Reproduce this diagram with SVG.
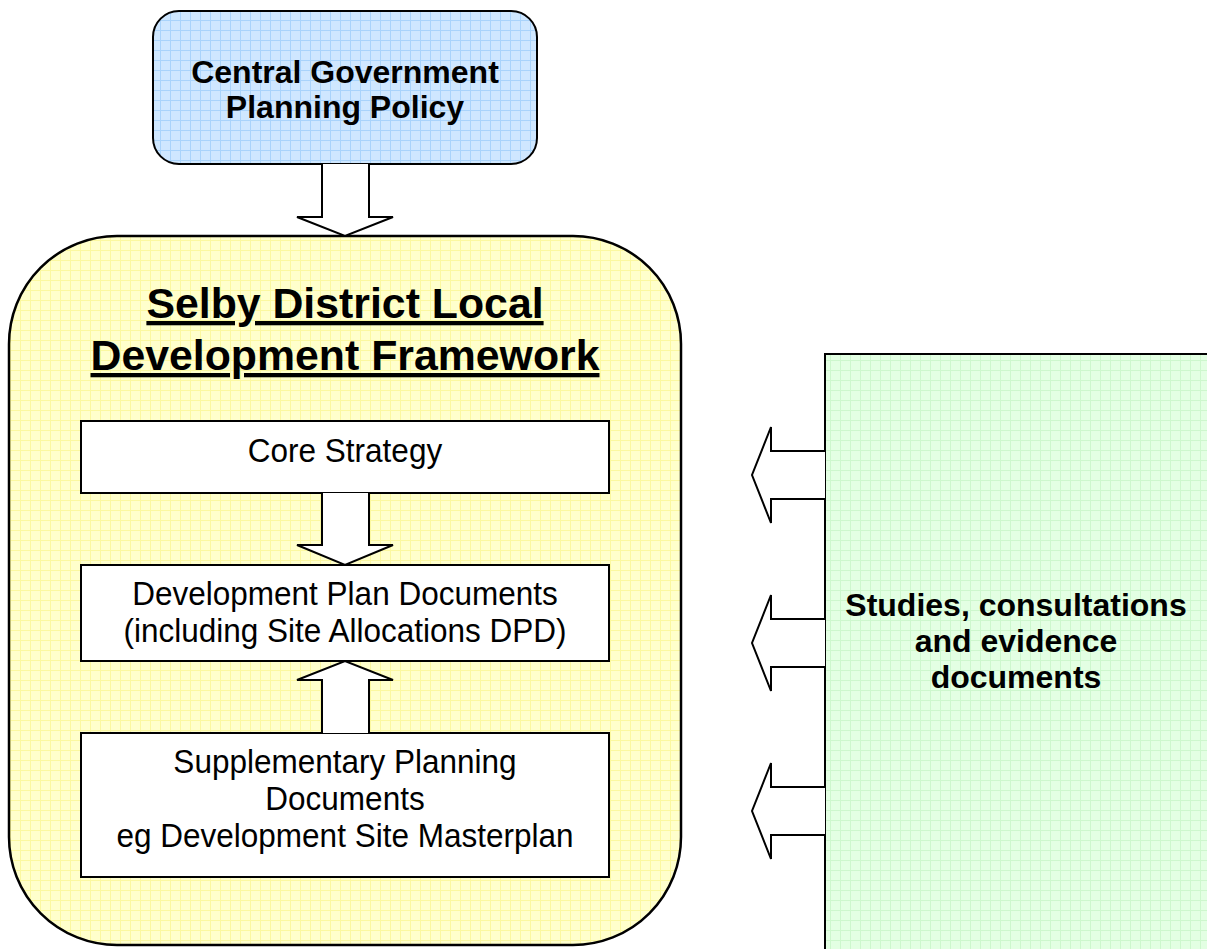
<svg xmlns="http://www.w3.org/2000/svg" width="1207" height="949" viewBox="0 0 1207 949">
<style>
.t{font-family:"Liberation Sans",Arial,sans-serif;fill:#000;text-anchor:middle}
.b{font-weight:bold;font-size:32px}
.n{font-size:33px}
.bx{fill:#fff;stroke:#000;stroke-width:2}
.ar{fill:#fff;stroke:#000;stroke-width:2;stroke-linejoin:miter}
</style>
<defs>
<pattern id="gBlue" width="10" height="10" patternUnits="userSpaceOnUse">
<rect width="10" height="10" fill="#cfe7ff"/>
<path d="M0 0.5H10M0.5 0V10" stroke="#a9d3fb" stroke-width="1"/>
</pattern>
<pattern id="gYellow" width="10" height="10" patternUnits="userSpaceOnUse">
<rect width="10" height="10" fill="#ffffcc"/>
<path d="M0 0.5H10M0.5 0V10" stroke="#fbf8a0" stroke-width="1"/>
</pattern>
<pattern id="gGreen" width="10" height="10" patternUnits="userSpaceOnUse">
<rect width="10" height="10" fill="#e3ffe3"/>
<path d="M0 0.5H10M0.5 0V10" stroke="#cdf7cd" stroke-width="1"/>
</pattern>
</defs>

<g id="lframework">
<rect x="9" y="236" width="672" height="709" rx="108" ry="108" fill="url(#gYellow)" stroke="#000" stroke-width="2.5"/>
<text class="t" font-weight="bold" font-size="42.8" x="345" y="318" text-decoration="underline">Selby District Local</text>
<text class="t" font-weight="bold" font-size="42.8" x="345" y="370" text-decoration="underline">Development Framework</text>
</g>

<g id="central">
<rect x="153" y="11" width="384" height="153" rx="26" ry="26" fill="url(#gBlue)" stroke="#000" stroke-width="2"/>
<text class="t b" x="345" y="83">Central Government</text>
<text class="t b" x="345" y="118">Planning Policy</text>
</g>

<g id="studies">
<rect x="825" y="354" width="400" height="620" fill="url(#gGreen)" stroke="#000" stroke-width="2"/>
<text class="t b" x="1016" y="616">Studies, consultations</text>
<text class="t b" x="1016" y="652">and evidence</text>
<text class="t b" x="1016" y="688">documents</text>
</g>

<g id="core">
<rect class="bx" x="81" y="421" width="528" height="72"/>
<g transform="translate(345 0) scale(0.955 1) translate(-345 0)">
<text class="t n" x="345" y="462">Core Strategy</text>
</g>
</g>

<g id="dpd">
<rect class="bx" x="81" y="565" width="528" height="96"/>
<g transform="translate(345 0) scale(0.955 1) translate(-345 0)">
<text class="t n" x="345" y="605">Development Plan Documents</text>
<text class="t n" x="345" y="642">(including Site Allocations DPD)</text>
</g>
</g>

<g id="spd">
<rect class="bx" x="81" y="733" width="528" height="144"/>
<g transform="translate(345 0) scale(0.955 1) translate(-345 0)">
<text class="t n" x="345" y="773">Supplementary Planning</text>
<text class="t n" x="345" y="810">Documents</text>
<text class="t n" x="345" y="847">eg Development Site Masterplan</text>
</g>
</g>

<g id="connectors">
<path class="ar" d="M322 164V217H297L345 236L393 217H369V164"/>
<path class="ar" d="M322 493V545H297L345 565L393 545H369V493"/>
<path class="ar" d="M322 733V680H297L345 661L393 680H369V733"/>
<path class="ar" d="M825 451H771V427L752 475L771 523V499H825"/>
<path class="ar" d="M825 619H771V595L752 643L771 691V667H825"/>
<path class="ar" d="M825 787H771V763L752 811L771 859V835H825"/>
</g>
</svg>
